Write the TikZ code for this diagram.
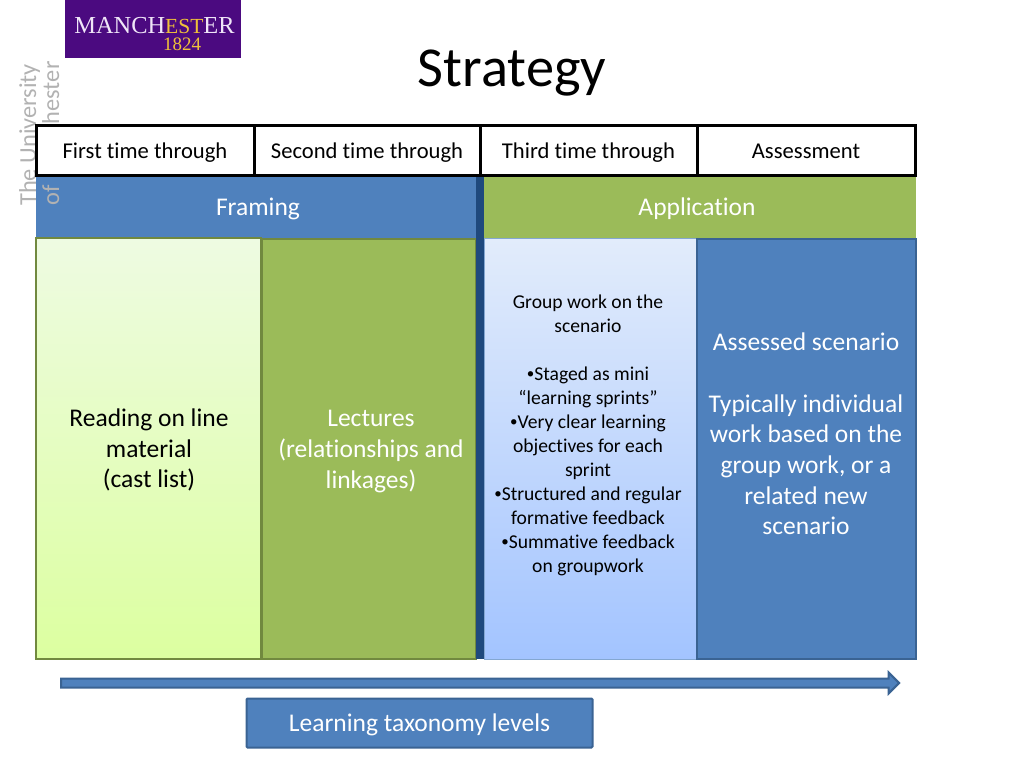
\documentclass[tikz,border=0pt]{standalone}
\usepackage{fontspec}
\setmainfont[Ligatures=CommonOff]{Carlito}
\newfontfamily\logofont{Liberation Serif}
\usetikzlibrary{shapes.arrows}

\definecolor{panelblue}{HTML}{4F81BD}
\definecolor{edgeblue}{HTML}{3A6393}
\definecolor{panelgreen}{HTML}{9BBB59}
\definecolor{edgegreen}{HTML}{71893F}
\definecolor{stripblue}{HTML}{1F497D}
\definecolor{logopurple}{HTML}{4B0A80}
\definecolor{logogold}{HTML}{EFC13A}
\definecolor{logowhite}{HTML}{F0E6F8}
\definecolor{readtop}{HTML}{EEFBE2}
\definecolor{readbottom}{HTML}{DCFFA0}
\definecolor{grouptop}{HTML}{E2ECFB}
\definecolor{groupbottom}{HTML}{A3C4FF}

\newcommand{\tinybullet}{\raisebox{1.5pt}{\fontsize{15}{15}\selectfont •}}

\tikzset{
    headcell/.style={draw=black, line width=3pt, fill=white, inner sep=0pt, text height=16pt, text depth=0pt, font=\fontsize{22.6}{27}\selectfont},
    band/.style={inner sep=0pt, text=white, text height=17pt, text depth=0pt, font=\fontsize{25.5}{30}\selectfont},
    panel/.style={inner sep=0pt, align=center, font=\fontsize{25.5}{30.7}\selectfont}
}

\begin{document}
\begin{tikzpicture}[x=1pt, y=-1pt]
    \useasboundingbox (0,0) rectangle (1024,768);

    % Logo
    \node[fill=logopurple, minimum width=176pt, minimum height=58pt, inner sep=0pt] (logo) at (153,29) {};
    \node[text=logowhite, inner sep=0pt, font=\logofont\fontsize{24.4}{25}\selectfont] (logoname) at (154.5,25.5) {MANCH\textcolor{logogold}{\fontsize{21.5}{22}\selectfont EST}\fontsize{24.4}{25}\selectfont ER};
    \node[text=logogold, inner sep=0pt, font=\logofont\fontsize{19}{19}\selectfont] (logoyear) at (182,44) {1824};

    % Title
    \node[inner sep=0pt, font=\fontsize{56.4}{60}\selectfont] (title) at (512,73) {Strategy};

    % Bands
    \node[band, fill=panelblue, minimum width=440pt, minimum height=62pt] (framing) at (256,207) {};
    \node[band] (framinglabel) at (258,207) {Framing};
    \node[band, fill=panelgreen, minimum width=432pt, minimum height=62pt] (application) at (700,207) {};
    \node[band] (applabel) at (697,207) {Application};

    % Watermark
    \node[text=black!30, rotate=90, anchor=base west, inner sep=0pt, font=\fontsize{24.4}{26}\selectfont] (uni) at (36,206) {The University};
    \node[text=black!30, rotate=90, anchor=base west, inner sep=0pt, font=\fontsize{24.4}{26}\selectfont] (manc) at (59,206) {of Manchester};

    % Panels
    \node[panel, draw=edgegreen, line width=1.5pt, top color=readtop, bottom color=readbottom, minimum width=225pt, minimum height=421pt] (readingbox) at (148.5,448.5) {};
    \node[panel] (reading) at (149,450) {Reading on line\\material\\(cast list)};
    \node[panel, draw=edgegreen, line width=1.5pt, fill=panelgreen, minimum width=214pt, minimum height=420pt] (lectures) at (369,449) {};
    \node[panel, text=white] (lecturestext) at (371,451.5) {Lectures\\(relationships and\\linkages)};
    \node[panel, draw=panelblue!70, line width=1pt, top color=grouptop, bottom color=groupbottom, minimum width=213pt, minimum height=421pt] (groupbox) at (590.5,448.5) {};
    \node[inner sep=0pt, align=center, font=\fontsize{19.6}{24}\selectfont] (groupwork) at (588,435) {Group work on the\\scenario\\[24pt]\tinybullet Staged as mini\\“learning sprints”\\\tinybullet Very clear learning\\objectives for each\\sprint\\\tinybullet Structured and regular\\formative feedback\\\tinybullet Summative feedback\\on groupwork};
    \node[panel, draw=edgeblue, line width=1.5pt, fill=panelblue, minimum width=219pt, minimum height=420pt] (assessbox) at (806.5,449) {};
    \node[panel, text=white] (assessed) at (806,434) {Assessed scenario\\[30.7pt]Typically individual\\work based on the\\group work, or a\\related new\\scenario};
    \node[fill=stripblue, minimum width=8pt, minimum height=483pt, inner sep=0pt] (strip) at (480,417.5) {};

    % Header row
    \node[headcell, minimum width=218pt, minimum height=50pt] (first) at (145,150) {First time through};
    \node[headcell, minimum width=226pt, minimum height=50pt] (second) at (367,150) {Second time through};
    \node[headcell, minimum width=217pt, minimum height=50pt] (third) at (588.5,150) {Third time through};
    \node[headcell, minimum width=218pt, minimum height=50pt] (assess) at (806,150) {Assessment};

    % Taxonomy arrow and label
    \node[single arrow, draw=edgeblue, line width=2pt, fill=panelblue, anchor=west, inner xsep=0pt, inner ysep=3.5pt, single arrow head extend=6pt, single arrow head indent=0pt, minimum height=838pt] (levels) at (60,683) {};
    \node[draw=edgeblue, line width=2pt, rounded corners=1pt, fill=panelblue, text=white, inner sep=0pt, text height=17pt, text depth=0pt, minimum width=346pt, minimum height=49pt, font=\fontsize{25.5}{30}\selectfont] (taxonomy) at (419.5,723) {Learning taxonomy levels};
\end{tikzpicture}
\end{document}
